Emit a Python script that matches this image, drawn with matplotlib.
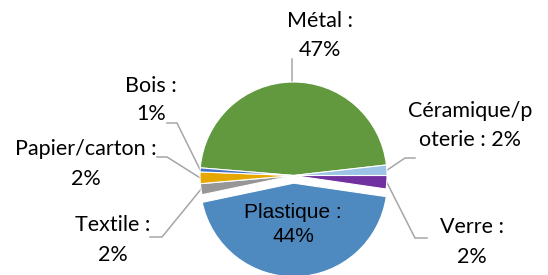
import numpy as np
import matplotlib
matplotlib.use("Agg")
import matplotlib.pyplot as plt

# ---- data ----
categories = ["Métal", "Céramique/poterie", "Verre", "Plastique", "Textile", "Papier/carton", "Bois"]
values = [46.9, 1.8, 2.3, 44.4, 1.9, 2.0, 0.7]
label_lines = [["Métal :", "47%"], ["Céramique/p", "oterie : 2%"], ["Verre :", "2%"],
               ["Plastique :", "44%"], ["Textile :", "2%"], ["Papier/carton :", "2%"],
               ["Bois :", "1%"]]
colors = ["#62993E", "#9DC3E6", "#7030A0", "#4E8AC0", "#979797", "#E6A800", "#4472C4"]

W, H = 548, 275
fig = plt.figure(figsize=(W / 100, H / 100), dpi=100)
ax = fig.add_axes([0, 0, 1, 1])

def Y(y):
    return H - y

cx, cy, R = 293.5, 175.5, 93.5
# explode offsets are absolute data units in matplotlib -> scale by radius
explode = [f * R for f in [0, 0, 0, 0.082, 0, 0, 0]]
wedges, _ = ax.pie(values, colors=colors, startangle=175.3, counterclock=False,
                   explode=explode, center=(cx, Y(cy)), radius=R,
                   wedgeprops=dict(linewidth=0.8, edgecolor="white"))
ax.set_xlim(0, W)
ax.set_ylim(0, H)
ax.set_aspect("equal")
ax.axis("off")

outer_font = ["Lato", "DejaVu Sans"]
inner_font = ["Liberation Sans", "DejaVu Sans"]
fs_outer = 15.5
fs_inner = 15

# label layout in pixels from top-left
layout = {
    0: dict(x=320, y1=21, y2=50, line=[(292, 59), (292, 59)]),
    1: dict(x=470, y1=111, y2=140, line=[(415, 158), (405, 158)]),
    2: dict(x=472, y1=227, y2=257, line=[(427, 238), (415, 238)]),
    4: dict(x=113, y1=225, y2=255, line=[(150, 237), (162, 237)]),
    5: dict(x=86, y1=149, y2=179, line=[(157, 157), (167, 157)]),
    6: dict(x=151, y1=86, y2=114, line=[(167, 123), (177, 123)]),
}

for i, w in enumerate(wedges):
    lines = label_lines[i]
    if i == 3:
        ax.text(293, Y(212), lines[0], ha="center", va="center", fontsize=fs_inner,
                family=inner_font, color="black")
        ax.text(293, Y(237), lines[1], ha="center", va="center", fontsize=fs_inner,
                family=inner_font, color="black")
        continue
    L = layout[i]
    ax.text(L["x"], Y(L["y1"]), lines[0], ha="center", va="center", fontsize=fs_outer,
            family=outer_font, color="black")
    ax.text(L["x"], Y(L["y2"]), lines[1], ha="center", va="center", fontsize=fs_outer,
            family=outer_font, color="black")
    mid = np.deg2rad((w.theta1 + w.theta2) / 2)
    ex = cx + R * np.cos(mid)
    ey = Y(cy) + R * np.sin(mid)
    (x0, y0), (x1, y1) = L["line"]
    ax.plot([x0, x1, ex], [Y(y0), Y(y1), ey], color="#A6A6A6", lw=1.1,
            solid_joinstyle="miter", zorder=0)

fig.savefig("out.png", dpi=100)
